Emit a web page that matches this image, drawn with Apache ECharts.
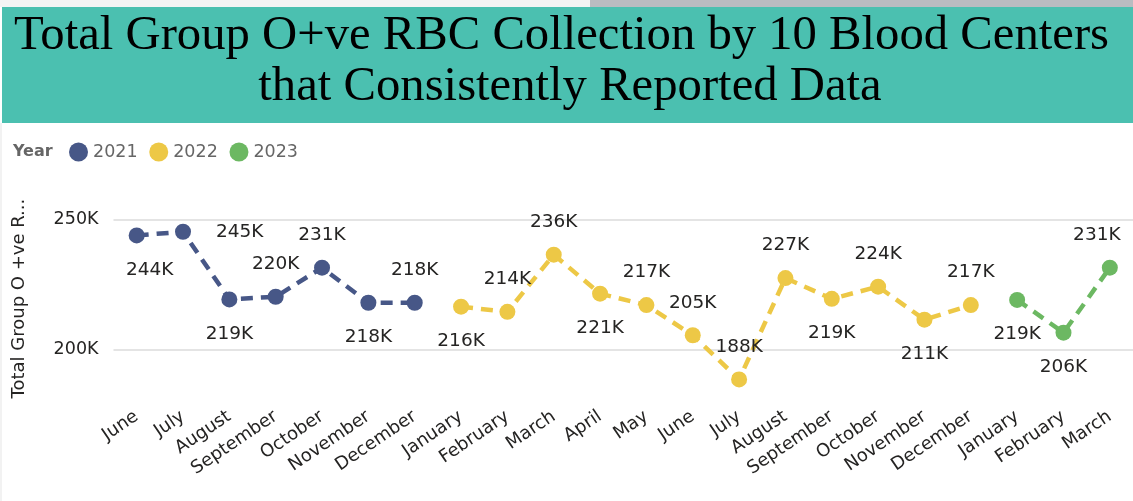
<!DOCTYPE html>
<html><head><meta charset="utf-8">
<script src="https://cdn.jsdelivr.net/npm/echarts@6/dist/echarts.min.js"></script>
<style>html,body{margin:0;padding:0;background:#fff;} #c{width:1133px;height:501px;}</style>
</head><body><div id="c"></div>
<script>
const months = ['June','July','August','September','October','November','December','January','February','March','April','May','June','July','August','September','October','November','December','January','February','March'];
const years = ['2021','2022','2023'];
const values2021 = [243800,245200,219200,220200,231400,217900,217900];
const values2022 = [216400,214400,236400,221400,217000,205400,188400,227400,219400,224100,211400,217000];
const values2023 = [219000,206400,231400];
const labelSide2021 = ['belowRight','right','below','above','above','below','above'];
const labelSide2022 = ['below','above','above','below','above','above','above','above','below','above','below','above'];
const labelSide2023 = ['below','below','aboveLeft'];
const yTicks = [200000, 250000];
const titleLine1 = 'Total Group O+ve RBC Collection by 10 Blood Centers';
const titleLine2 = 'that Consistently Reported Data';
const colors = ['#475787', '#edc846', '#6cb862'];

function labelFor(side){
  switch(side){
    case 'above': return {position:'top', distance:15};
    case 'below': return {position:'bottom', distance:17};
    case 'right': return {position:'right', distance:25};
    case 'belowRight': return {position:'bottom', distance:17, offset:[13,0]};
    case 'aboveLeft': return {position:'top', distance:15, offset:[-13,0]};
  }
  return {};
}
function buildData(vals, sides, start){
  const arr = new Array(months.length).fill(null);
  vals.forEach((v,i)=>{ arr[start+i] = {value:v, label:labelFor(sides[i])}; });
  return arr;
}
const font = 'DejaVu Sans';
function mkSeries(name, vals, sides, start, idx){
  return {
    name, type:'line', data: buildData(vals, sides, start),
    symbol:'circle', symbolSize:16, connectNulls:false,
    itemStyle:{color:colors[idx]},
    lineStyle:{color:colors[idx], width:4.5, type:[12,8]},
    label:{show:true, formatter: p=> Math.round(p.value/1000)+'K', fontSize:18.5, color:'#252423', fontFamily:font},
    emphasis:{disabled:true}
  };
}
const chart = echarts.init(document.getElementById('c'));
chart.setOption({
  animation:false,
  color: colors,
  grid:{left:113.5, right:0, top:206.3, bottom:110.1},
  legend:{data:years, left:69, top:142.5, icon:'circle', itemWidth:19, itemHeight:19, itemGap:11.7, padding:0,
    textStyle:{fontSize:17.5, color:'#666', fontFamily:font}},
  graphic:[
    {type:'rect', shape:{x:0,y:0,width:1133,height:7}, style:{fill:'#f4f4f4'}, silent:true},
    {type:'rect', shape:{x:590,y:0,width:543,height:7}, style:{fill:'#b9bcc1'}, silent:true},
    {type:'rect', shape:{x:2,y:7,width:1131,height:116}, style:{fill:'#4bc0b0'}, silent:true},
    {type:'rect', shape:{x:0,y:123,width:2,height:378}, style:{fill:'#f2f2f2'}, silent:true},
    {type:'text', x:561.5, y:36, silent:true, style:{text:titleLine1, font:'48.7px "Liberation Serif"', fill:'#000', align:'center', verticalAlign:'middle'}},
    {type:'text', x:570, y:87.5, silent:true, style:{text:titleLine2, font:'48.7px "Liberation Serif"', fill:'#000', align:'center', verticalAlign:'middle'}},
    {type:'text', x:13, y:152, silent:true, style:{text:'Year', font:'bold 16px "DejaVu Sans"', fill:'#666', align:'left', verticalAlign:'middle'}}
  ],
  xAxis:{type:'category', data:months, boundaryGap:true,
    axisLine:{show:false}, axisTick:{show:false},
    axisLabel:{rotate:34, interval:0, fontSize:18, color:'#252423', margin:24, fontFamily:font}},
  yAxis:{type:'value', min:184000, max:255000,
    name:'Total Group O +ve R...', nameLocation:'middle', nameGap:85,
    nameTextStyle:{fontSize:18, color:'#252423', fontFamily:font},
    axisLine:{show:false}, axisTick:{show:false, customValues:yTicks},
    axisLabel:{customValues:yTicks, formatter:v=>Math.round(v/1000)+'K', fontSize:17.5, color:'#252423', margin:15, fontFamily:font},
    splitLine:{show:true, lineStyle:{color:'#e4e4e4', width:2}}},
  series:[
    mkSeries('2021', values2021, labelSide2021, 0, 0),
    mkSeries('2022', values2022, labelSide2022, 7, 1),
    mkSeries('2023', values2023, labelSide2023, 19, 2)
  ]
});
</script></body></html>
